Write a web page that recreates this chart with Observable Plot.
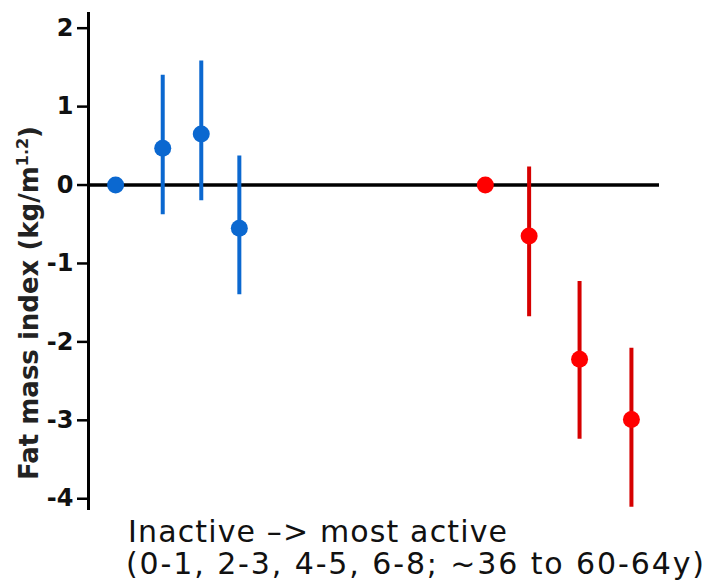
<!DOCTYPE html>
<html>
<head>
<meta charset="utf-8">
<script src="https://cdn.jsdelivr.net/npm/d3@7"></script>
<script src="https://cdn.jsdelivr.net/npm/@observablehq/plot@0.6"></script>
<style>
  html, body { margin: 0; padding: 0; background: #fff; }
  #chart svg { display: block; }
</style>
</head>
<body>
<div id="chart"></div>
<script>
// Data
const groups   = ["early", "early", "early", "early", "adult", "adult", "adult", "adult"];
const xPos     = [0.57, 1.56, 2.37, 3.17, 8.34, 9.26, 10.32, 11.41];
const estimate = [0, 0.47, 0.65, -0.55, 0, -0.65, -2.22, -2.99];
const lower    = [null, -0.38, -0.20, -1.40, null, -1.68, -3.24, -4.11];
const upper    = [null, 1.40, 1.58, 0.37, null, 0.23, -1.23, -2.08];
const yTicks   = [2, 1, 0, -1, -2, -3, -4];
const yLabelMain = "Fat mass index (kg/m";
const yLabelSup  = "1.2";
const yLabelEnd  = ")";
const captionLines = ["Inactive \u2013> most active", "(0-1, 2-3, 4-5, 6-8; ~36 to 60-64y)"];

const dotColors = {early: "#0b68d0", adult: "#ff0000"};
const barColors = {early: "#0b68d0", adult: "#d60000"};

const rows = groups.map((g, i) => ({g, x: xPos[i], y: estimate[i], lo: lower[i], hi: upper[i]}));
const bars = rows.filter(d => d.lo != null);

const chart = Plot.plot({
  width: 707,
  height: 587,
  marginLeft: 88,
  marginRight: 48,
  marginTop: 12,
  marginBottom: 77,
  style: {fontFamily: "DejaVu Sans", background: "#fff"},
  x: {domain: [0, 12], axis: null},
  y: {domain: [-4.15, 2.2], axis: null},
  marks: [
    Plot.axisY({
      ticks: yTicks,
      tickFormat: d => String(d),
      tickSize: 11,
      tickPadding: 4,
      strokeWidth: 2.5,
      stroke: "#000",
      fill: "#111",
      fontSize: 24,
      fontWeight: "bold",
      label: null
    }),
    Plot.ruleX([0], {stroke: "#000", strokeWidth: 3}),
    Plot.ruleY([0], {stroke: "#000", strokeWidth: 3.5}),
    Plot.ruleX(bars, {x: "x", y1: "lo", y2: "hi", stroke: d => barColors[d.g], strokeWidth: 4}),
    Plot.dot(rows, {x: "x", y: "y", r: 8.5, fill: d => dotColors[d.g], stroke: "none"})
  ]
});

const svg = d3.select(chart);

// Y-axis title with superscript
const ylab = svg.append("text")
  .attr("transform", "translate(38,303) rotate(-90)")
  .attr("text-anchor", "middle")
  .attr("font-family", "DejaVu Sans")
  .attr("font-weight", "bold")
  .attr("font-size", 26)
  .attr("fill", "#222");
ylab.append("tspan").text(yLabelMain);
ylab.append("tspan").attr("dy", -10).attr("font-size", 16).text(yLabelSup);
ylab.append("tspan").attr("dy", 10).text(yLabelEnd);

// Caption under the chart
const capX = [128, 126];
const capY = [542, 574];
const capW = [379, 578];
captionLines.forEach((t, i) => {
  svg.append("text")
    .attr("x", capX[i])
    .attr("y", capY[i])
    .attr("text-anchor", "start")
    .attr("font-family", "DejaVu Sans")
    .attr("font-size", 30)
    .attr("fill", "#111")
    .attr("textLength", capW[i])
    .attr("lengthAdjust", "spacing")
    .text(t);
});

document.getElementById("chart").appendChild(chart);
</script>
</body>
</html>
